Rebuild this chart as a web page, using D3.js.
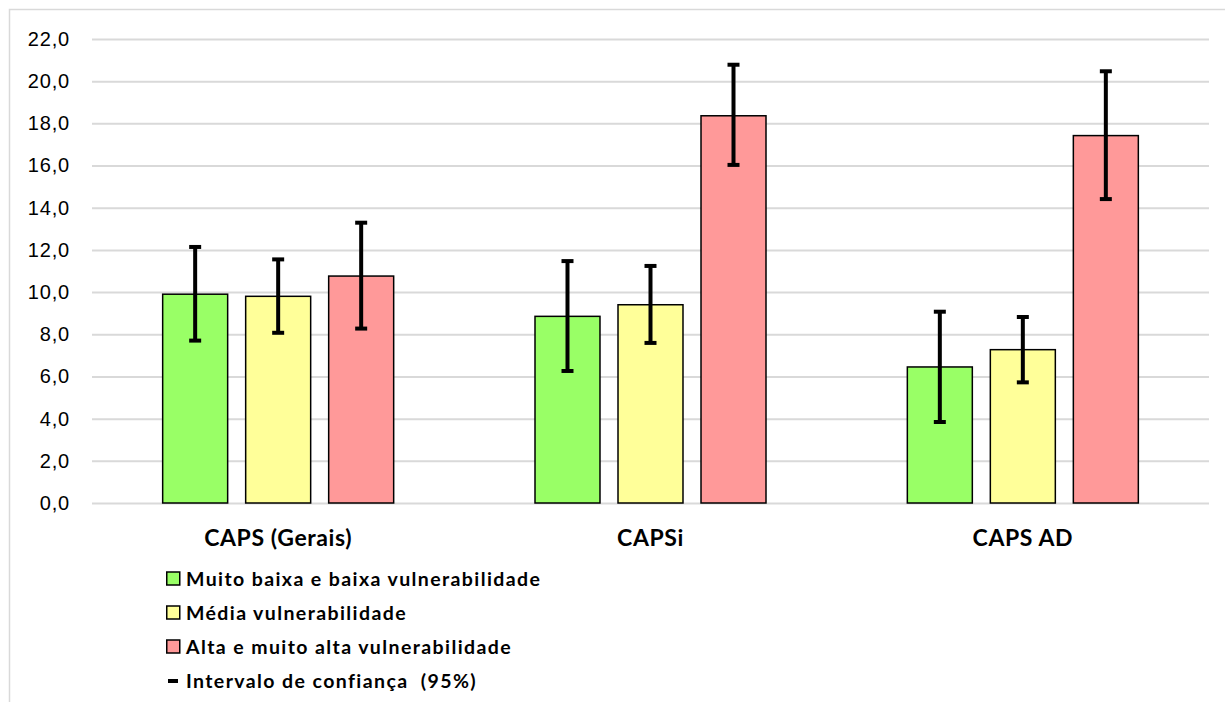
<!DOCTYPE html>
<html>
<head>
<meta charset="utf-8">
<script src="https://cdnjs.cloudflare.com/ajax/libs/d3/7.8.5/d3.min.js"></script>
<style>
  body { margin: 0; background: #fff; }
  svg { display: block; font-family: Lato, "Open Sans", sans-serif; }
</style>
</head>
<body>
<svg></svg>
<script>
  // data
  let categories = ["CAPS (Gerais)", "CAPSi", "CAPS AD"];
  let series = ["Muito baixa e baixa vulnerabilidade", "Média vulnerabilidade", "Alta e muito alta vulnerabilidade"];
  let colors = ["#99ff66", "#ffff99", "#ff9999"];
  let values = {
    "Muito baixa e baixa vulnerabilidade": [9.9, 8.85, 6.45],
    "Média vulnerabilidade": [9.8, 9.4, 7.27],
    "Alta e muito alta vulnerabilidade": [10.76, 18.36, 17.42]
  };
  let ciLow = {
    "Muito baixa e baixa vulnerabilidade": [7.7, 6.26, 3.84],
    "Média vulnerabilidade": [8.07, 7.59, 5.72],
    "Alta e muito alta vulnerabilidade": [8.27, 16.03, 14.41]
  };
  let ciHigh = {
    "Muito baixa e baixa vulnerabilidade": [12.14, 11.47, 9.07],
    "Média vulnerabilidade": [11.55, 11.24, 8.82],
    "Alta e muito alta vulnerabilidade": [13.29, 20.78, 20.47]
  };
  let yTicks = [0, 2, 4, 6, 8, 10, 12, 14, 16, 18, 20, 22];
  let ciLabel = "Intervalo de confiança  (95%)";

  let width = 1225, height = 702;
  let margin = {top: 39, bottom: 199, left: 92, right: 16};
  let svg = d3.select("svg").attr("width", width).attr("height", height);

  // outer chart border
  svg.append("rect")
    .attr("x", 9.5).attr("y", 9.5)
    .attr("width", width).attr("height", height)
    .attr("fill", "none").attr("stroke", "#d9d9d9").attr("stroke-width", 1.5);

  let scales = {
    y: d3.scaleLinear().domain([0, 22]).range([height - margin.bottom, margin.top]),
    x0: d3.scaleBand().domain(categories).range([margin.left, width - margin.right]).padding(0),
    x1: d3.scaleBand().domain(series).range([0, 231]).paddingInner(0.217).paddingOuter(0)
  };
  let groupOffset = (scales.x0.bandwidth() - 231) / 2;

  // gridlines + tick labels
  let yAxis = d3.axisLeft(scales.y)
    .tickValues(yTicks)
    .tickSize(-(width - margin.right - margin.left))
    .tickPadding(22)
    .tickFormat(d => d3.format(".1f")(d).replace(".", ","));

  let axisG = svg.append("g")
    .attr("transform", "translate(" + margin.left + ",0)")
    .call(yAxis);
  axisG.select(".domain").remove();
  axisG.selectAll(".tick line").attr("stroke", "#d9d9d9").attr("stroke-width", 2);
  axisG.selectAll(".tick text")
    .attr("font-size", 20).attr("letter-spacing", 0.8).attr("fill", "#000");

  // bars
  let groups = svg.selectAll(".group")
    .data(categories)
    .enter()
    .append("g")
    .attr("class", "group")
    .attr("transform", d => "translate(" + (scales.x0(d) + groupOffset) + ",0)");

  groups.selectAll(".bar")
    .data((c, i) => series.map((s, j) => ({s: s, j: j, v: values[s][i]})))
    .enter()
    .append("rect")
    .attr("class", "bar")
    .attr("x", d => scales.x1(d.s))
    .attr("y", d => scales.y(d.v))
    .attr("width", scales.x1.bandwidth())
    .attr("height", d => scales.y(0) - scales.y(d.v))
    .attr("fill", d => colors[d.j])
    .attr("stroke", "#000")
    .attr("stroke-width", 1.5);

  // error bars
  let err = groups.selectAll(".err")
    .data((c, i) => series.map(s => ({s: s, lo: ciLow[s][i], hi: ciHigh[s][i]})))
    .enter()
    .append("g")
    .attr("class", "err")
    .attr("transform", d => "translate(" + (scales.x1(d.s) + scales.x1.bandwidth() / 2) + ",0)");
  err.append("line")
    .attr("y1", d => scales.y(d.lo)).attr("y2", d => scales.y(d.hi))
    .attr("stroke", "#000").attr("stroke-width", 4);
  err.selectAll(".cap")
    .data(d => [d.lo, d.hi])
    .enter()
    .append("line")
    .attr("x1", -6).attr("x2", 6)
    .attr("y1", d => scales.y(d)).attr("y2", d => scales.y(d))
    .attr("stroke", "#000").attr("stroke-width", 4);

  // category labels
  svg.selectAll(".cat")
    .data(categories)
    .enter()
    .append("text")
    .attr("class", "cat")
    .attr("x", d => scales.x0(d) + scales.x0.bandwidth() / 2)
    .attr("y", 546)
    .attr("text-anchor", "middle")
    .attr("font-size", 23)
    .attr("letter-spacing", 0.6)
    .attr("font-weight", "bold")
    .attr("fill", "#000")
    .text(d => d);

  // legend
  let legend = svg.append("g").attr("transform", "translate(166,0)");
  let rows = legend.selectAll(".leg")
    .data(series)
    .enter()
    .append("g")
    .attr("class", "leg")
    .attr("transform", (d, i) => "translate(0," + (579 + i * 34) + ")");
  rows.append("rect")
    .attr("x", 0.75).attr("y", -7)
    .attr("width", 13).attr("height", 13)
    .attr("fill", (d, i) => colors[i])
    .attr("stroke", "#000").attr("stroke-width", 1.5);
  rows.append("text")
    .attr("x", 20).attr("y", 7)
    .attr("font-size", 19.5).attr("letter-spacing", 1.4)
    .attr("font-weight", "bold").attr("fill", "#000")
    .text(d => d);

  let ciRow = legend.append("g").attr("transform", "translate(0," + (579 + 3 * 34) + ")");
  ciRow.append("line")
    .attr("x1", 2).attr("x2", 12).attr("y1", 0).attr("y2", 0)
    .attr("stroke", "#000").attr("stroke-width", 4);
  ciRow.append("text")
    .attr("x", 20).attr("y", 7)
    .attr("font-size", 19.5).attr("letter-spacing", 1.4)
    .attr("font-weight", "bold").attr("fill", "#000")
    .attr("xml:space", "preserve")
    .text(ciLabel);
</script>
</body>
</html>
